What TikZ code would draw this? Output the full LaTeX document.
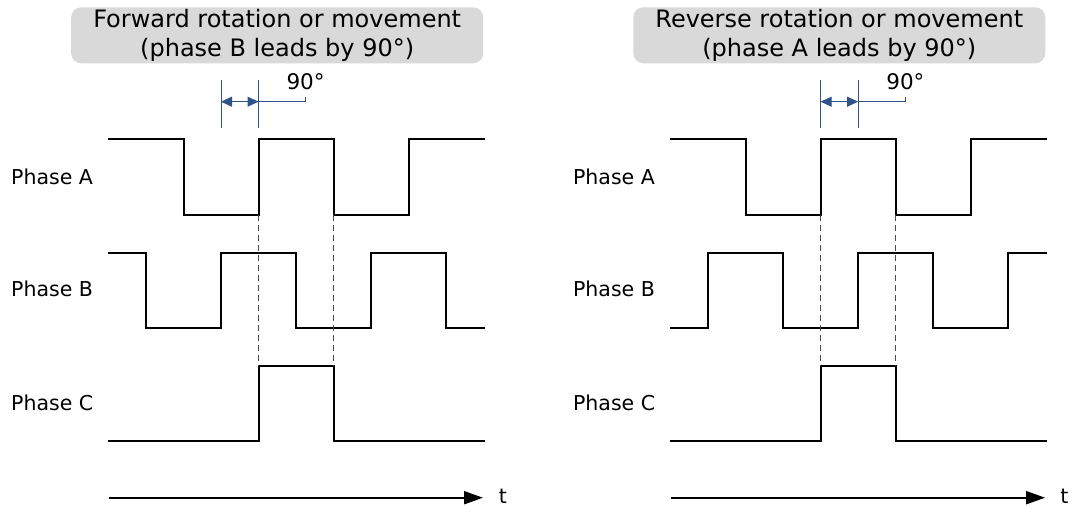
\documentclass[tikz,border=0pt]{standalone}
\usepackage{fontspec}
\setmainfont{DejaVu Sans}
\usetikzlibrary{arrows.meta}
\definecolor{boxgray}{HTML}{D9D9D9}
\definecolor{dimblue}{HTML}{2F5288}
\begin{document}
\begin{tikzpicture}[x=1pt,y=-1pt,
  sig/.style={line width=2pt, line join=miter, line cap=rect},
  dashln/.style={line width=0.9pt, dash pattern=on 6pt off 4pt, draw=black!70},
  dimln/.style={line width=1pt, draw=dimblue},
  dimarrow/.style={line width=1pt, draw=dimblue, fill=dimblue, {Triangle[length=11pt,width=10pt]}-{Triangle[length=11pt,width=10pt]}},
  axisarrow/.style={line width=2pt, -{Triangle[length=19pt,width=13pt]}},
  lbl/.style={font=\fontsize{20.5}{24}\selectfont, anchor=west, inner sep=0pt},
  deg/.style={font=\fontsize{21.5}{24}\selectfont, inner sep=0pt},
  titlebox/.style={fill=boxgray, rounded corners=10pt, font=\fontsize{24}{29.3}\selectfont, align=center, minimum width=412pt, minimum height=56pt, inner sep=0pt},
]
\useasboundingbox (0,0) rectangle (1072,506);

% ---------------- left panel ----------------
\begin{scope}[name prefix=L-]
  \node[titlebox] (title) at (277.2,35.3) {Forward rotation or movement\\(phase B leads by 90°)};
  \node[lbl] (pa) at (11,176.7) {Phase A};
  \node[lbl] (pb) at (11,289) {Phase B};
  \node[lbl] (pc) at (11,403.3) {Phase C};
  % waveforms
  \draw[sig] (108.5,139) -- (183.5,139) -- (183.5,215) -- (258.5,215) -- (258.5,139) -- (333.5,139) -- (333.5,215) -- (408.5,215) -- (408.5,139) -- (483.5,139);
  \draw[sig] (108.5,252.7) -- (146,252.7) -- (146,327.7) -- (221,327.7) -- (221,252.7) -- (296,252.7) -- (296,327.7) -- (371,327.7) -- (371,252.7) -- (446,252.7) -- (446,327.7) -- (483.5,327.7);
  \draw[sig] (108.5,441.3) -- (258.5,441.3) -- (258.5,365.7) -- (333.5,365.7) -- (333.5,441.3) -- (483.5,441.3);
  % dashed guides
  \coordinate (d1t) at (258.5,215); \coordinate (d1b) at (258.5,365.7);
  \coordinate (d2t) at (333.5,215); \coordinate (d2b) at (333.5,365.7);
  \draw[dashln] (d1t) -- (d1b);
  \draw[dashln] (d2t) -- (d2b);
  % 90 degree dimension
  \coordinate (v1t) at (221,80);   \coordinate (v1b) at (221,128.3);
  \coordinate (v2t) at (258.5,80); \coordinate (v2b) at (258.5,128.3);
  \coordinate (a1) at (221,101.7); \coordinate (a2) at (258.5,101.7);
  \coordinate (le) at (305.5,101.7); \coordinate (lt) at (305.5,96.7);
  \draw[dimln] (v1t) -- (v1b);
  \draw[dimln] (v2t) -- (v2b);
  \draw[dimarrow] (a1) -- (a2);
  \draw[dimln] (a2) -- (le) -- (lt);
  \node[deg] (deg) at (305.6,81.7) {90°};
  % time axis
  \coordinate (ax0) at (108.5,497.7); \coordinate (ax1) at (483,497.7);
  \draw[axisarrow] (ax0) -- (ax1);
  \node[lbl, anchor=center] (t) at (502.8,496) {t};
\end{scope}

% ---------------- right panel ----------------
\begin{scope}[xshift=562.1pt, name prefix=R-]
  \node[titlebox] (title) at (277.2,35.3) {Reverse rotation or movement\\(phase A leads by 90°)};
  \node[lbl] (pa) at (10.8,176.7) {Phase A};
  \node[lbl] (pb) at (10.8,289) {Phase B};
  \node[lbl] (pc) at (10.8,403.3) {Phase C};
  \draw[sig] (108.5,139) -- (183.5,139) -- (183.5,215) -- (258.5,215) -- (258.5,139) -- (333.5,139) -- (333.5,215) -- (408.5,215) -- (408.5,139) -- (483.5,139);
  \draw[sig] (108.5,327.7) -- (146,327.7) -- (146,252.7) -- (221,252.7) -- (221,327.7) -- (296,327.7) -- (296,252.7) -- (371,252.7) -- (371,327.7) -- (446,327.7) -- (446,252.7) -- (483.5,252.7);
  \draw[sig] (108.5,441.3) -- (258.5,441.3) -- (258.5,365.7) -- (333.5,365.7) -- (333.5,441.3) -- (483.5,441.3);
  \coordinate (d1t) at (258.5,215); \coordinate (d1b) at (258.5,365.7);
  \coordinate (d2t) at (333.5,215); \coordinate (d2b) at (333.5,365.7);
  \draw[dashln] (d1t) -- (d1b);
  \draw[dashln] (d2t) -- (d2b);
  \coordinate (v1t) at (258.5,80); \coordinate (v1b) at (258.5,128.3);
  \coordinate (v2t) at (296,80);   \coordinate (v2b) at (296,128.3);
  \coordinate (a1) at (258.5,101.7); \coordinate (a2) at (296,101.7);
  \coordinate (le) at (343,101.7); \coordinate (lt) at (343,96.7);
  \draw[dimln] (v1t) -- (v1b);
  \draw[dimln] (v2t) -- (v2b);
  \draw[dimarrow] (a1) -- (a2);
  \draw[dimln] (a2) -- (le) -- (lt);
  \node[deg] (deg) at (343.3,81.7) {90°};
  \coordinate (ax0) at (108.5,497.7); \coordinate (ax1) at (483,497.7);
  \draw[axisarrow] (ax0) -- (ax1);
  \node[lbl, anchor=center] (t) at (502.2,496) {t};
\end{scope}
\end{tikzpicture}
\end{document}
